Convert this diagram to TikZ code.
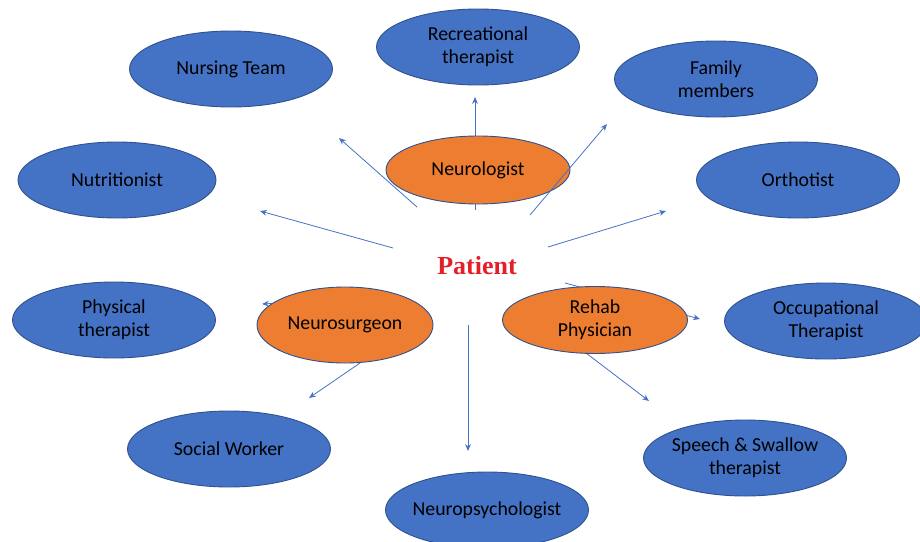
\documentclass[tikz,border=0pt]{standalone}
\usepackage{fontspec}
\setmainfont{Carlito}
\newfontfamily\patientfont{Liberation Serif}
\usepackage{tikz}
\usetikzlibrary{positioning,shapes,arrows,calc,shapes.geometric,arrows.meta}
\usepackage{xcolor}
\definecolor{teamblue}{HTML}{4472C4}
\definecolor{teamedge}{HTML}{2F528F}
\definecolor{docorange}{HTML}{ED7D31}
\definecolor{patientred}{HTML}{E3202A}

\begin{document}
\begin{tikzpicture}[
      x=1pt, y=-1pt,
      staff/.style={ellipse, draw=teamedge, line width=0.9pt, fill=teamblue, inner ysep=0pt, inner xsep=-3pt, minimum width=203pt, minimum height=76pt, align=center, font=\fontsize{19.8}{23}\selectfont}, % Outer team members
      doctor/.style={staff, fill=docorange}, % Physicians round the patient
      link/.style={draw=teamblue, line width=0.8pt, -{Stealth[length=2.4mm, width=2mm]}}
  ]
      \useasboundingbox (0,0) rectangle (920,541);

      % Arrow ends
      \coordinate (nursingtail) at (417,207);  \coordinate (nursingtip) at (339,138);
      \coordinate (recreatetail) at (475,210); \coordinate (recreatetip) at (475,97);
      \coordinate (familytail) at (530,215);   \coordinate (familytip) at (607,124);
      \coordinate (nutritail) at (393,248);    \coordinate (nutritip) at (260,211);
      \coordinate (orthotail) at (548,247);    \coordinate (orthotip) at (666,211);
      \coordinate (physicaltail) at (392,297); \coordinate (physicaltip) at (262,304);
      \coordinate (occutail) at (565,283);     \coordinate (occutip) at (700,319);
      \coordinate (socialtail) at (360,363);   \coordinate (socialtip) at (309,398);
      \coordinate (psychtail) at (468,325);    \coordinate (psychtip) at (468,451);
      \coordinate (speechtail) at (586,353);   \coordinate (speechtip) at (649,401);

      % Connections lying under the orange nodes
      \draw[link] (nursingtail) -- (nursingtip);
      \draw[link] (recreatetail) -- (recreatetip);
      \draw[link] (nutritail) -- (nutritip);
      \draw[link] (orthotail) -- (orthotip);
      \draw[link] (physicaltail) -- (physicaltip);
      \draw[link] (occutail) -- (occutip);
      \draw[link] (socialtail) -- (socialtip);
      \draw[link] (psychtail) -- (psychtip);
      \draw[link] (speechtail) -- (speechtip);

      % Nodes - outer ring
      \node (nursing) [staff] at (231,69) {Nursing Team};
      \node (recreate) [staff] at (478,47) {Recreational\\therapist};
      \node (family) [staff] at (716,79) {Family\\members};
      \node (nutri) [staff, minimum width=198pt] at (117,180) {Nutritionist};
      \node (ortho) [staff] at (798,180) {Orthotist};
      \node (physical) [staff] at (114,320) {Physical\\therapist};
      \node (occu) [staff] at (826,321) {Occupational\\Therapist};
      \node (social) [staff] at (229,449) {Social Worker};
      \node (speech) [staff] at (745,458) {Speech \& Swallow\\therapist};
      \node (psych) [staff] at (487,510) {Neuropsychologist};

      % Nodes - physicians and patient
      \node (neurologist) [doctor, minimum width=184pt, minimum height=68pt] at (478,170) {Neurologist};
      \node (neurosurgeon) [doctor, minimum width=176pt, minimum height=76pt] at (345,325) {Neurosurgeon};
      \node (rehab) [doctor, minimum width=185pt, minimum height=67pt] at (595,320) {Rehab\\Physician};
      \node (patient) [font=\patientfont\bfseries\fontsize{26}{30}\selectfont, text=patientred] at (477,266) {Patient};

      % Connection crossing over the neurologist
      \draw[link] (familytail) -- (familytip);
  \end{tikzpicture}
\end{document}
